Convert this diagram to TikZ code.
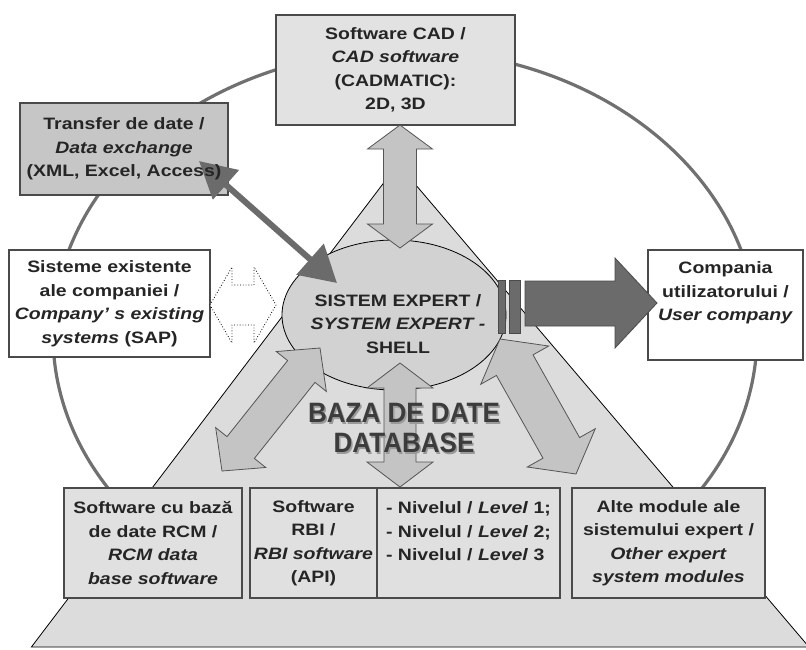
\documentclass[tikz,border=0pt]{standalone}
\usepackage{fontspec}
\setmainfont{Liberation Sans}[FakeStretch=1.18]
\newfontfamily\bigfont{Liberation Sans}[FakeStretch=0.93]
\usetikzlibrary{calc,shapes.geometric,arrows.meta}
\definecolor{circ}{HTML}{707070}
\definecolor{trifill}{HTML}{DCDCDC}
\definecolor{ellfill}{HTML}{D2D2D2}
\definecolor{cadfill}{HTML}{E2E2E2}
\definecolor{trfill}{HTML}{C6C6C6}
\definecolor{botfill}{HTML}{E0E0E0}
\definecolor{arrfill}{HTML}{C4C4C4}
\definecolor{arrline}{HTML}{555555}
\definecolor{darkarr}{HTML}{6B6B6B}
\definecolor{darkline}{HTML}{4A4A4A}
\definecolor{boxline}{HTML}{4A4A4A}
\definecolor{txt}{HTML}{252525}
\definecolor{dbtxt}{HTML}{3C3C3C}
\definecolor{dbshadow}{HTML}{9A9A9A}
% block double arrow: options, tipA, tipB, head length, shaft half width, head half width
\newcommand\dblarrow[6]{%
  \filldraw[#1] (#2) -- ($(#2)!#4!(#3)!#6!90:(#3)$) -- ($(#2)!#4!(#3)!#5!90:(#3)$)
   -- ($(#3)!#4!(#2)!#5!-90:(#2)$) -- ($(#3)!#4!(#2)!#6!-90:(#2)$) -- (#3)
   -- ($(#3)!#4!(#2)!#6!90:(#2)$) -- ($(#3)!#4!(#2)!#5!90:(#2)$)
   -- ($(#2)!#4!(#3)!#5!-90:(#3)$) -- ($(#2)!#4!(#3)!#6!-90:(#3)$) -- cycle;}
\begin{document}
\begin{tikzpicture}[x=1pt,y=-1pt,
  txtstyle/.style={align=center, inner sep=0pt, text=txt,
    font=\fontsize{16.5}{23.5}\selectfont\bfseries},
  box/.style={txtstyle, draw=boxline, line width=1.2pt, rectangle},
  blockarr/.style={fill=arrfill, draw=arrline, line width=0.8pt, line join=miter},
  dbstyle/.style={align=center, inner sep=0pt,
    font=\bigfont\fontsize{28}{30}\selectfont\bfseries}]
\useasboundingbox (0,0) rectangle (806,649);
\fill[white] (0,0) rectangle (806,649);
\clip (0,0) rectangle (806,649);

% outer circle
\draw[circ, line width=3.2pt] (405,335) ellipse [x radius=352pt, y radius=285pt];

% pyramid
\filldraw[fill=trifill, draw=black, line width=0.8pt]
  (398,164) -- (31.4,647) -- (809,647) -- cycle;

% boxes
\node[box, fill=cadfill, minimum width=239, minimum height=110] (cad) at (395.5,70)
  {Software CAD /\\\textit{CAD software}\\(CADMATIC):\\2D, 3D};
\node[box, fill=trfill, minimum width=208, minimum height=92] (tr) at (124,149) {};
\node[box, fill=white, minimum width=201, minimum height=107] (sis) at (109.5,303.5)
  {Sisteme existente\\ale companiei /\\\textit{Company' s existing}\\\textit{systems} (SAP)};
\node[box, fill=white, minimum width=155, minimum height=110] (comp) at (725.5,305)
  {Compania\\utilizatorului /\\\textit{User company}\\[4pt]};
\node[box, fill=botfill, minimum width=178, minimum height=110] (rcm) at (153,543)
  {Software cu bază\\de date RCM /\\\textit{RCM data}\\\textit{base software}};
\node[box, fill=botfill, minimum width=127, minimum height=110] (rbi) at (313.5,543)
  {Software\\RBI /\\\textit{RBI software}\\(API)};
\node[box, fill=botfill, minimum width=183, minimum height=110, align=left] (niv) at (468.5,543)
  {- Nivelul / \textit{Level} 1;\\- Nivelul / \textit{Level} 2;\\- Nivelul / \textit{Level} 3\\\mbox{}};
\node[box, fill=botfill, minimum width=193, minimum height=110] (alt) at (668.5,543)
  {Alte module ale\\sistemului expert /\\\textit{Other expert}\\\textit{system modules}};

% central expert system ellipse
\node[ellipse, draw=black, line width=0.8pt, fill=ellfill, minimum width=224,
  minimum height=150, inner sep=0pt] (es) at (394,315) {};

% arrow end points
\coordinate (cadA) at (400,125);  \coordinate (cadB) at (400,248);
\coordinate (dbA)  at (400,363);  \coordinate (dbB)  at (400,487);
\coordinate (rcmA) at (320,348);  \coordinate (rcmB) at (222,471);
\coordinate (altA) at (500,339);  \coordinate (altB) at (576,474);
\coordinate (sisA) at (210,305);  \coordinate (sisB) at (276,305);
\coordinate (trA)  at (199,161);  \coordinate (trB)  at (337,283);

% block double arrows
\dblarrow{blockarr}{cadA}{cadB}{24pt}{16.5pt}{32.5pt}
\dblarrow{blockarr}{rcmA}{rcmB}{30pt}{17.5pt}{32pt}
\dblarrow{blockarr}{altA}{altB}{30pt}{21pt}{39pt}
\dblarrow{blockarr}{dbA}{dbB}{25pt}{16pt}{33pt}
\dblarrow{draw=black, fill=white, dotted, line width=0.8pt}{sisA}{sisB}{22pt}{20pt}{38pt}

% output arrow to user company
\filldraw[fill=darkarr, draw=darkline, line width=0.8pt] (498,280) rectangle (505,333);
\filldraw[fill=darkarr, draw=darkline, line width=0.8pt] (509,280) rectangle (520,333);
\coordinate (outTip) at (657,303);
\filldraw[fill=darkarr, draw=darkline, line width=0.8pt]
  (525,281) -- (615,281) -- (615,258) -- (outTip) -- (615,348) -- (615,326) -- (525,326) -- cycle;

% data exchange arrow
\draw[darkarr, line width=6pt,
  {Triangle[length=36pt,width=38pt]}-{Triangle[length=36pt,width=40pt]}] (trA) -- (trB);

% texts
\node[txtstyle] (trt) at (124,149) {Transfer de date /\\\textit{Data exchange}\\(XML, Excel, Access)};
\node[txtstyle] (est) at (398,324) {SISTEM EXPERT /\\\textit{SYSTEM EXPERT -}\\SHELL};
\node[dbstyle, text=dbshadow] (dbs) at (405.5,429.5) {BAZA DE DATE\\DATABASE};
\node[dbstyle, text=dbtxt] (db) at (404,428) {BAZA DE DATE\\DATABASE};
\end{tikzpicture}
\end{document}
